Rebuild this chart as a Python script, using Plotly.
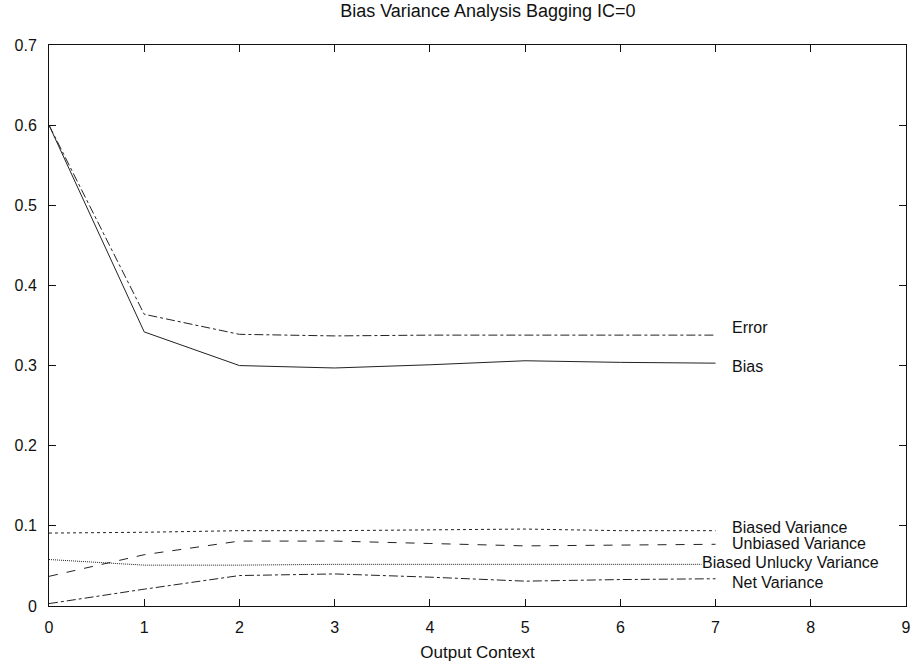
import plotly.graph_objects as go

# Output context values on the x axis
context = [0, 1, 2, 3, 4, 5, 6, 7]

# Bias / variance decomposition per output context
error = [0.600, 0.364, 0.339, 0.337, 0.338, 0.338, 0.338, 0.338]
bias = [0.600, 0.342, 0.300, 0.297, 0.301, 0.306, 0.304, 0.303]
biased_variance = [0.091, 0.092, 0.094, 0.094, 0.095, 0.096, 0.094, 0.094]
unbiased_variance = [0.037, 0.064, 0.081, 0.081, 0.078, 0.075, 0.076, 0.077]
biased_unlucky_variance = [0.058, 0.051, 0.051, 0.052, 0.052, 0.052, 0.052, 0.052]
net_variance = [0.003, 0.021, 0.038, 0.040, 0.036, 0.031, 0.033, 0.034]

# name, values, dash, label anchored on the right?, vertical nudge of the label
series = [
    ("Error", error, "dashdot", False, 8),
    ("Bias", bias, "solid", False, -3),
    ("Biased Variance", biased_variance, "dot", False, 3),
    ("Unbiased Variance", unbiased_variance, "dash", False, 1),
    ("Biased Unlucky Variance", biased_unlucky_variance, "1px,1px", True, 2),
    ("Net Variance", net_variance, "dashdot", False, -4),
]

FONT = "Liberation Sans, Arial, Helvetica, sans-serif"
INK = "#222222"
TEXT = "#111111"

fig = go.Figure()
for name, values, dash, _, _ in series:
    fig.add_trace(go.Scatter(
        x=context, y=values, mode="lines", name=name,
        line=dict(color=INK, width=1, dash=dash),
        showlegend=False, hoverinfo="skip",
    ))

# Series names written at the right end of each line
for name, values, _, right, yshift in series:
    if right:
        fig.add_annotation(
            x=context[-1], y=values[-1], text=name, showarrow=False,
            xanchor="right", xshift=164, yshift=yshift,
            bgcolor="white", borderpad=0,
            font=dict(family=FONT, size=16, color=TEXT),
        )
    else:
        fig.add_annotation(
            x=context[-1], y=values[-1], text=name, showarrow=False,
            xanchor="left", xshift=14, yshift=yshift,
            font=dict(family=FONT, size=16, color=TEXT),
        )

axis_common = dict(
    showline=True, linecolor=TEXT, linewidth=1, mirror="ticks",
    ticks="inside", ticklen=7, tickcolor=TEXT, tickwidth=1,
    showgrid=False, zeroline=False,
    tickfont=dict(family=FONT, size=16, color=TEXT),
)

fig.update_layout(
    width=917, height=664,
    margin=dict(l=49, r=6, t=45, b=58),
    paper_bgcolor="white", plot_bgcolor="white",
    title=dict(
        text="Bias Variance Analysis Bagging IC=0",
        x=0.532, xanchor="center", y=0.993, yanchor="top",
        font=dict(family=FONT, size=18, color=TEXT),
    ),
    xaxis=dict(
        range=[0, 9], dtick=1, tick0=0, ticklabelstandoff=7,
        title=dict(text="Output Context", standoff=10,
                   font=dict(family=FONT, size=17, color=TEXT)),
        **axis_common,
    ),
    yaxis=dict(
        range=[0, 0.7], dtick=0.1, tick0=0, tickformat=".1~f",
        ticklabelstandoff=8,
        **axis_common,
    ),
)

fig.write_html("out.html")
